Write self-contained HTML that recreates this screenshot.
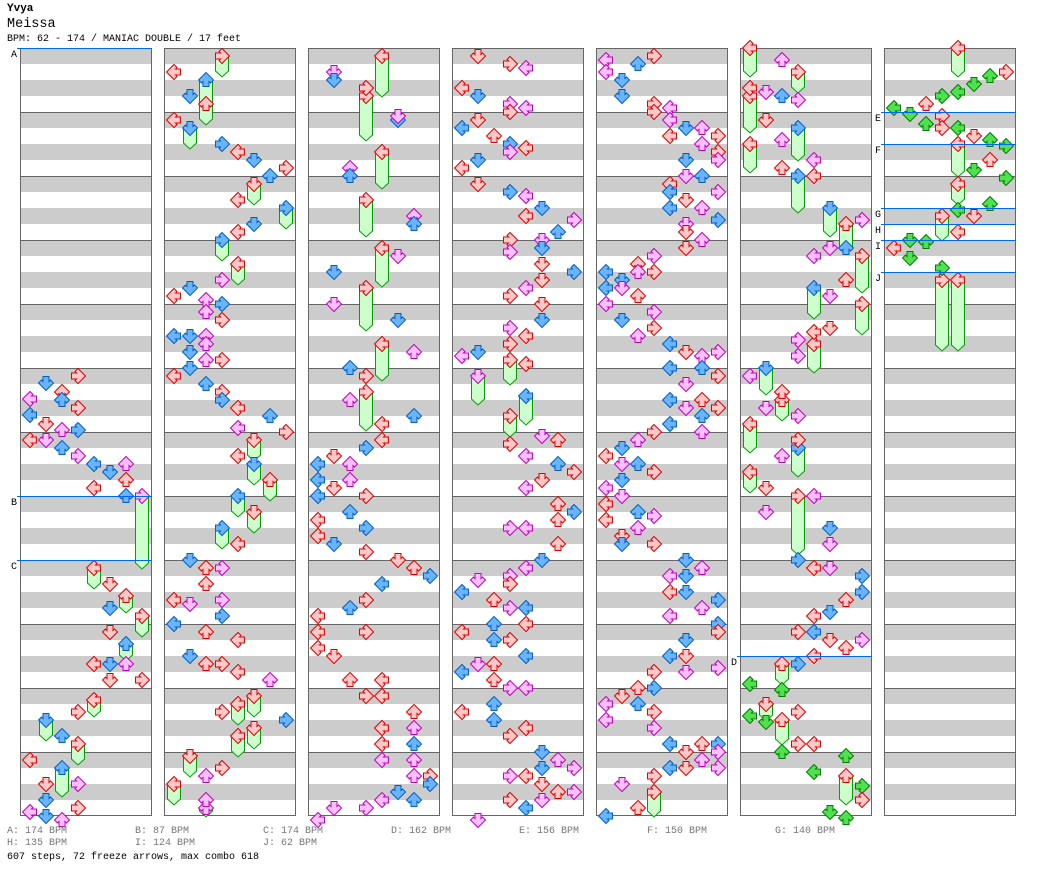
<!DOCTYPE html>
<html><head><meta charset="utf-8"><style>
body{margin:0;background:#fff;width:1040px;height:888px;overflow:hidden;font-family:"Liberation Mono",monospace;}
.t{position:absolute;white-space:pre;}
</style></head><body>
<div class="t" style="left:7px;top:3px;font-size:11px;font-weight:bold;">Yvya</div>
<div class="t" style="left:7px;top:17px;font-size:13.5px;">Meissa</div>
<div class="t" style="left:7px;top:34px;font-size:10px;">BPM: 62 - 174 / MANIAC DOUBLE / 17 feet</div>
<svg id="chart" width="1040" height="888" style="position:absolute;left:0;top:0"></svg>
<div id="legend"></div>
<div class="t" style="left:7px;top:852px;font-size:10px;color:#000;">607 steps, 72 freeze arrows, max combo 618</div>
<script>
const colStarts=[20,164,308,452,596,740,884];
const bpmLabels=["A","B","C","D","E","F","G","H","I","J"];
const bpmValues=[174,87,174,162,156,150,140,135,124,62];
const bpmMarks=[[0,48],[0,496],[0,560],[5,656],[6,112],[6,144],[6,208],[6,224],[6,240],[6,272]];
// notes: per column "cx,y,color" (cx = lane centre, y = timing centre)
const notes=[
"46,383,b 78,376,r 30,399,p 62,392,r 30,415,b 62,400,b 78,408,r 46,424,r 62,430,p 78,430,b 30,440,r 46,440,p 62,448,b 78,456,p 94,464,b 126,464,p 110,472,b 94,488,r 126,496,b 126,480,r 110,584,r 110,608,b 110,632,r 94,664,r 110,664,b 126,664,p 110,680,r 142,680,r 78,712,r 62,736,b 30,760,r 46,784,r 78,784,p 30,812,p 46,800,b 46,816,b 62,820,p 78,808,r",
"172,72,r 188,96,b 172,120,r 220,144,b 236,152,r 252,160,b 284,168,r 268,176,b 236,200,r 252,224,b 236,232,r 220,280,p 172,296,r 188,288,b 204,300,p 220,304,b 204,312,p 220,320,r 172,336,b 188,336,b 204,336,p 204,344,p 220,360,r 188,352,b 172,376,r 188,368,b 204,360,p 204,384,b 220,392,r 220,400,b 236,408,r 268,416,b 284,432,r 236,428,p 236,456,r 236,544,r 188,560,b 204,568,r 220,568,p 204,584,r 172,600,r 188,604,p 220,600,p 220,616,b 172,624,b 204,632,r 236,640,r 188,656,b 204,664,r 220,664,r 236,672,r 268,680,p 284,720,b 220,712,r 204,776,p 220,768,r 204,800,p",
"332,72,p 332,80,b 364,88,r 396,120,b 396,116,p 348,168,p 348,176,b 412,216,p 412,224,b 332,272,b 396,256,p 332,304,p 396,320,b 412,352,p 348,368,b 364,376,r 348,400,p 412,416,b 380,424,r 380,440,r 364,448,b 332,456,r 316,464,b 348,464,p 316,480,b 348,480,p 332,488,r 316,496,b 364,496,r 348,512,b 316,520,r 316,536,r 364,528,b 332,544,b 364,552,r 396,560,r 412,568,r 428,576,b 380,584,b 364,600,r 348,608,b 316,616,r 364,632,r 316,632,r 316,648,r 332,656,r 348,680,r 380,680,r 364,696,r 380,696,r 412,712,r 380,728,r 412,728,p 412,744,b 380,744,r 412,760,p 380,760,p 428,776,r 412,776,p 428,784,b 396,792,b 380,800,p 412,800,b 364,808,p 332,808,p 316,820,p",
"476,56,r 508,64,r 524,68,p 460,88,r 476,96,b 508,104,p 524,108,p 508,112,r 476,120,r 460,128,b 492,136,r 508,144,b 524,148,r 508,152,p 476,160,b 460,168,r 476,184,r 508,192,b 524,196,p 540,208,b 524,216,r 572,220,p 556,232,b 540,240,p 508,240,r 540,248,b 508,252,p 540,264,r 572,272,b 540,280,r 524,288,p 508,296,r 540,304,r 540,320,b 508,328,p 524,336,r 508,344,r 476,352,b 460,356,p 524,364,r 540,436,p 508,444,r 556,440,r 524,456,p 556,464,b 572,472,r 540,480,r 524,488,p 556,504,r 572,512,b 556,520,r 508,528,p 524,528,p 556,544,r 540,560,b 524,568,p 508,576,p 476,580,p 508,584,r 460,592,b 492,600,r 508,608,p 524,608,b 524,624,r 492,624,b 460,632,r 508,640,r 492,640,b 524,656,b 476,664,p 492,664,r 460,672,b 492,680,r 508,688,p 524,688,p 492,704,b 460,712,r 492,720,b 524,728,r 508,736,r 540,752,b 556,760,p 540,768,b 572,768,p 508,776,p 524,776,r 540,784,r 556,792,r 572,792,p 508,800,r 540,800,p 524,808,b 476,820,p",
"604,60,p 636,64,b 652,56,r 604,72,p 620,80,b 620,96,b 652,104,r 668,108,p 652,112,r 668,120,p 668,136,r 700,128,p 684,128,b 716,136,r 700,144,p 716,152,r 716,160,p 684,160,b 684,176,p 668,184,r 700,176,b 668,192,b 684,200,r 716,192,p 668,208,b 700,208,p 716,220,b 684,224,p 684,232,r 700,240,p 684,248,r 652,256,p 636,264,r 604,272,b 620,280,b 636,272,p 652,272,r 604,288,b 620,288,p 636,296,r 604,304,p 652,312,p 620,320,b 652,328,r 636,336,p 668,344,b 684,352,r 716,352,p 700,356,p 668,368,b 700,368,b 716,376,r 684,384,p 668,400,b 700,400,r 684,408,p 716,408,r 700,416,b 668,424,b 652,432,r 700,432,p 636,440,p 620,448,b 604,456,r 636,464,b 620,464,p 652,472,r 620,480,b 604,488,p 620,496,p 604,504,r 636,512,b 652,516,p 604,520,r 636,528,p 620,536,r 652,544,r 620,544,b 684,560,b 668,576,p 684,576,b 700,568,p 668,592,r 684,592,b 716,600,b 700,608,p 668,616,p 716,624,b 716,632,r 684,640,b 668,656,b 684,656,r 652,672,r 684,672,p 716,668,p 652,688,b 636,688,r 620,696,r 604,704,p 636,704,b 652,712,r 604,720,p 652,728,p 668,744,b 700,744,r 716,744,b 684,752,r 716,752,p 700,760,p 668,768,b 716,768,p 652,776,r 684,768,r 620,784,p 636,808,r 604,816,b",
"780,60,p 748,88,r 764,92,p 780,96,b 796,100,p 764,120,r 780,140,p 812,160,p 780,168,r 812,176,r 860,220,p 828,248,p 844,248,b 812,256,p 844,280,r 828,296,p 828,328,r 796,340,p 796,356,p 812,332,r 748,376,p 780,392,r 764,408,p 796,416,p 796,440,r 780,456,p 764,488,r 812,496,p 764,512,p 828,528,b 828,544,p 796,560,b 812,568,r 828,568,p 860,576,b 860,592,b 844,600,r 812,616,r 828,612,b 812,632,b 796,632,r 828,640,r 860,640,p 844,648,r 812,656,r 796,664,b 748,684,g 780,690,g 796,712,r 748,716,g 764,722,g 796,744,r 812,744,r 780,752,g 844,756,g 812,772,g 860,786,g 828,812,g 844,818,g 860,800,r",
"988,76,g 972,84,g 1004,72,r 956,92,g 940,96,g 924,104,r 892,108,g 908,114,g 940,116,r 924,124,g 940,128,r 956,128,g 972,136,r 988,140,g 1004,146,g 988,160,r 972,170,g 1004,178,g 956,210,g 988,204,g 972,216,r 956,232,r 892,248,r 908,240,g 924,242,g 908,258,g 940,268,g"
];
// freezes: per column "cx,yStart,yEnd,headColor"
const freezes=[
"142,496,568,p 94,568,588,r 126,596,612,r 142,616,636,r 126,644,660,b 94,700,716,r 46,720,740,b 78,744,764,r 62,768,796,b",
"204,80,120,b 220,56,76,r 188,128,148,b 204,104,124,r 252,184,204,r 284,208,228,b 220,240,260,b 236,264,284,r 252,440,460,r 252,464,484,b 268,480,500,r 236,496,516,b 252,512,532,r 220,528,548,b 252,696,716,r 236,704,724,r 252,728,748,r 236,736,756,r 188,756,776,r 172,784,804,r 204,808,816,p",
"380,56,96,r 364,96,140,r 380,152,188,r 364,200,236,r 380,248,286,r 364,288,330,r 380,344,380,r 364,392,430,r",
"508,360,384,r 476,376,404,p 524,396,424,b 508,416,436,r",
"652,792,816,r",
"748,48,76,r 796,72,92,r 748,96,132,r 748,144,172,r 796,128,160,b 796,176,212,b 828,208,236,b 844,224,252,r 860,256,292,r 812,288,318,b 860,304,334,r 812,344,372,r 764,368,394,b 780,400,420,r 748,424,452,r 796,448,476,b 748,472,492,r 796,496,554,r 780,664,684,r 764,704,720,r 780,720,744,r 844,776,804,r",
"956,48,76,r 956,144,176,r 956,184,204,r 940,216,240,r 940,280,350,r 956,280,350,r"
];
const NS="http://www.w3.org/2000/svg";
const svg=document.getElementById('chart');
const COLORS={r:["#ffc8c8","#e00000"],b:["#6ab4ff","#0060c0"],p:["#ffc0ff","#c000c0"],g:["#50e050","#008000"]};
function mk(tag,attrs){const e=document.createElementNS(NS,tag);for(const k in attrs)e.setAttribute(k,attrs[k]);return e;}
function laneOf(c,cx){return Math.round((cx-colStarts[c]-10)/16);}
function laneX(c,l){return colStarts[c]+2+16*l;}
const ROT=[-90,180,0,90];
const UP="M8 0.5 L15.5 8 L12.5 11 L11 9.5 L11 14.5 L5 14.5 L5 9.5 L3.5 11 L0.5 8 Z";
colStarts.forEach((x,c)=>{
  const g=mk('g',{});
  
  
  g.appendChild(mk('rect',{x:x,y:48,width:132,height:768,fill:'#fff'}));
  for(let y=48;y<816;y+=32){g.appendChild(mk('rect',{x:x,y:y,width:132,height:16,fill:'#cccccc'}));}
  for(let y=112;y<816;y+=64){g.appendChild(mk('line',{x1:x,x2:x+132,y1:y+0.5,y2:y+0.5,stroke:'#666','stroke-width':1}));}
  g.appendChild(mk('rect',{x:x+0.5,y:48.5,width:131,height:767,fill:'none',stroke:'#666','stroke-width':1}));
  svg.appendChild(g);
});
function arrow(x,y,lane,col,parent){
  const [f,s]=COLORS[col];
  const p=mk('path',{d:UP,fill:f,stroke:s,'stroke-width':1,transform:`translate(${x},${y}) rotate(${ROT[lane%4]} 8 8)`});
  
  
  parent.appendChild(p);
}
freezes.forEach((str,c)=>{
  str.split(' ').forEach(tok=>{
    const parts=tok.split(',');
    const cx=+parts[0],y1=+parts[1],y2=+parts[2],hc=parts[3];
    const l=laneOf(c,cx),x=laneX(c,l);
    const body=mk('path',{d:`M${x+1.5} ${y1} L${x+14.5} ${y1} L${x+14.5} ${y2-5} L${x+8} ${y2+1} L${x+1.5} ${y2-5} Z`,fill:'#ccffcc',stroke:'#00a000','stroke-width':1});
    
    
    svg.appendChild(body);
    arrow(x,y1-8,l,hc,svg);
  });
});
notes.forEach((str,c)=>{
  str.split(' ').forEach(tok=>{
    const [cx,y,col]=tok.split(',');
    const l=laneOf(c,+cx);
    arrow(laneX(c,l),+y-8,l,col,svg);
  });
});
bpmMarks.forEach(([c,y],i)=>{
  const x=colStarts[c];
  const ln=mk('line',{x1:x-3,x2:x+132,y1:y+0.5,y2:y+0.5,stroke:'#0066ee','stroke-width':1});
  
  
  svg.appendChild(ln);
  const t=mk('text',{x:x-9,y:y+9,'font-family':'Liberation Mono, monospace','font-size':10,fill:'#000'});
  t.textContent=bpmLabels[i];
  
  
  svg.appendChild(t);
});
const leg=document.getElementById('legend');
bpmLabels.forEach((lab,i)=>{
  const d=document.createElement('div');
  d.className='t';
  
  
  const row=i<7?0:1, idx=i<7?i:i-7;
  d.style.cssText=`left:${7+128*idx}px;top:${826+12*row}px;font-size:10px;color:#777;`;
  d.textContent=`${lab}: ${bpmValues[i]} BPM`;
  leg.appendChild(d);
});
</script>
</body></html>
